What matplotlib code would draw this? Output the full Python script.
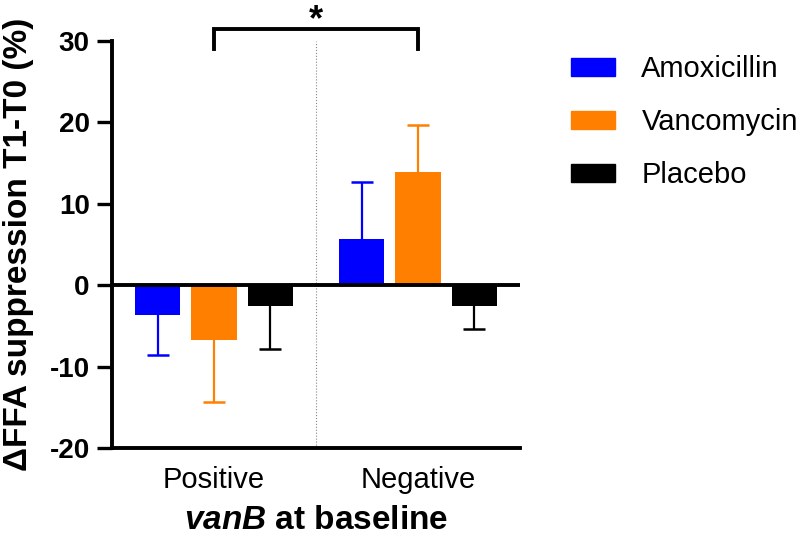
import numpy as np
import matplotlib
matplotlib.use('Agg')
import matplotlib.pyplot as plt
from matplotlib.patches import Patch

plt.rcParams['font.family'] = ['Liberation Sans', 'DejaVu Sans']
plt.rcParams['mathtext.fontset'] = 'custom'
plt.rcParams['mathtext.rm'] = 'Liberation Sans'
plt.rcParams['mathtext.bf'] = 'Liberation Sans:bold'
plt.rcParams['mathtext.bfit'] = 'Liberation Sans:italic:bold'

# data
groups = ['Positive', 'Negative']
treatments = ['Amoxicillin', 'Vancomycin', 'Placebo']
colors = ['#0000ff', '#ff8000', '#000000']
means = {'Amoxicillin': [-3.7, 5.7],
         'Vancomycin':  [-6.7, 13.9],
         'Placebo':     [-2.5, -2.6]}
errs = {'Amoxicillin': [4.9, 7.0],
        'Vancomycin':  [7.6, 5.8],
        'Placebo':     [5.3, 2.8]}
yticks = [-20, -10, 0, 10, 20, 30]

fig = plt.figure(figsize=(8.0, 5.38), dpi=100)
ax = fig.add_axes([0.14, 0.167, 0.51, 0.757])

x = np.arange(len(groups))
offs = [-0.276, 0.0, 0.276]
bw = 0.222
for k, t in enumerate(treatments):
    m = np.array(means[t])
    e = np.array(errs[t])
    lo = np.where(m < 0, e, 0)
    hi = np.where(m >= 0, e, 0)
    ax.bar(x + offs[k], m, bw, color=colors[k], zorder=2)
    # one-sided error bars: stem + cap at the far end only
    ax.errorbar(x + offs[k], m, yerr=[lo, hi], fmt='none', ecolor=colors[k],
                elinewidth=1.6, capsize=0, zorder=1)
    tips = m + np.sign(m) * e
    ax.plot(x + offs[k], tips, ls='none', marker='_', ms=16, mew=1.8,
            color=colors[k], zorder=1)

ax.axhline(0, color='black', lw=2.8, zorder=3)
ax.axvline(0.5, color='#888888', lw=0.8, ls=':', zorder=0)

ax.set_xlim(-0.5, 1.5)
ax.set_ylim(-20, 30)
ax.set_yticks(yticks)
ax.set_yticklabels([str(v) for v in yticks], fontsize=20, fontweight='bold')
ax.set_xticks(x)
ax.set_xticklabels(groups, fontsize=21)
ax.tick_params(axis='x', length=0, pad=13)
ax.tick_params(axis='y', length=11, width=2.4, pad=5)
for s in ['top', 'right']:
    ax.spines[s].set_visible(False)
for s in ['left', 'bottom']:
    ax.spines[s].set_linewidth(2.8)

ax.set_ylabel('ΔFFA suppression T1-T0 (%)', fontsize=24, fontweight='bold')
ax.yaxis.set_label_coords(-0.19, 0.5)
ax.set_xlabel(r'$\mathbfit{vanB}$ at baseline', fontsize=24, fontweight='bold', labelpad=8)

# significance bracket
bx0, bx1 = x[0] + offs[1], x[1] + offs[1]
ax.plot([bx0, bx0, bx1, bx1], [29.0, 31.5, 31.5, 29.0], color='black', lw=2.8,
        clip_on=False, solid_joinstyle='miter')
ax.text((bx0 + bx1) / 2, 31.3, '*', ha='center', va='baseline', fontsize=26,
        fontweight='bold', clip_on=False)

handles = [Patch(color=c) for c in colors]
fig.legend(handles, treatments, loc='upper left', bbox_to_anchor=(0.696, 0.924),
           frameon=False, fontsize=21, handlelength=1.5, handleheight=0.55,
           labelspacing=0.85, handletextpad=0.9, borderpad=0)

fig.savefig('out.png', dpi=100)
